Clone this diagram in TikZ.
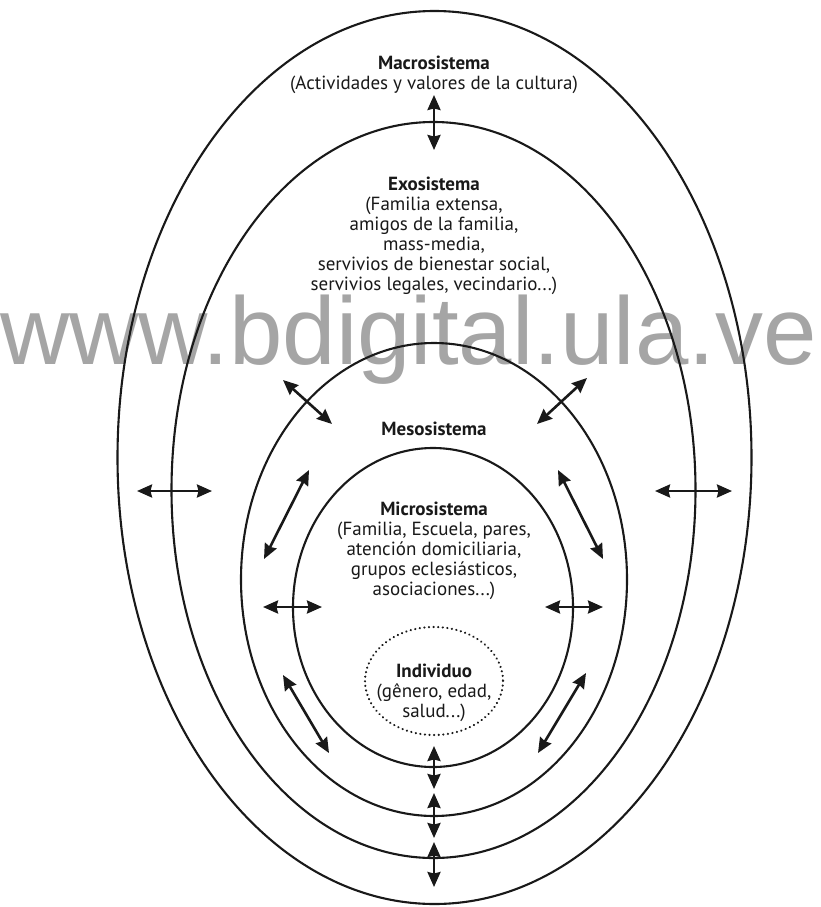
\documentclass[tikz,border=0pt]{standalone}
\usepackage{fontspec}
\setmainfont{PT Sans}
\newfontfamily\wmfont{Liberation Sans}
\usetikzlibrary{arrows.meta}
\definecolor{wm}{RGB}{165,165,165}
\definecolor{ink}{RGB}{25,25,25}
\begin{document}
\begin{tikzpicture}[x=1pt,y=-1pt,
  ring/.style={line width=2.1pt, draw=ink},
  dotring/.style={line width=2.4pt, draw=ink, dash pattern=on 0.01pt off 4.6pt, line cap=round},
  biarrow/.style={line width=2.6pt, draw=ink, {Stealth[length=15pt,width=13pt,inset=1.5pt]}-{Stealth[length=15pt,width=13pt,inset=1.5pt]}},
  lbl/.style={font=\fontsize{19}{20}\selectfont, align=center, inner sep=0pt, text=ink},
]
\path[use as bounding box, fill=white] (0,0) rectangle (820,907);
% watermark
\node[anchor=base west, inner sep=0pt, text=wm, font=\wmfont\fontsize{96}{96}\selectfont] (wm) at (0,364) {www.bdigital.ula.ve};
% rings
\draw[ring] (434.5,457.5) ellipse [x radius=317, y radius=446.5];
\draw[ring] (433.5,490) ellipse [x radius=262, y radius=368];
\draw[ring] (434,579.5) ellipse [x radius=193, y radius=236.5];
\draw[ring] (433,607.5) ellipse [x radius=140, y radius=159.5];
\draw[dotring] (434,681) ellipse [x radius=69, y radius=54];
% labels
\node[lbl] (macro) at (434,74.5) {\textbf{Macrosistema}\\(Actividades y valores de la cultura)};
\node[lbl] (exo) at (434,236) {\textbf{Exosistema}\\(Familia extensa,\\amigos de la familia,\\mass-media,\\servivios de bienestar social,\\servivios legales, vecindario...)};
\node[lbl] (meso) at (434,428.5) {\textbf{Mesosistema}};
\node[lbl] (micro) at (434,550.5) {\textbf{Microsistema}\\(Familia, Escuela, pares,\\atención domiciliaria,\\grupos eclesiásticos,\\asociaciones...)};
\node[lbl] (indiv) at (434,692.5) {\textbf{Individuo}\\(gênero, edad,\\salud...)};
% arrow end points
\coordinate (t1) at (434,95);   \coordinate (t2) at (434,150);
\coordinate (ol1) at (137,491); \coordinate (ol2) at (212,491);
\coordinate (or1) at (655,491); \coordinate (or2) at (732,491);
\coordinate (ul1) at (283,380); \coordinate (ul2) at (332,424);
\coordinate (ur1) at (587,378); \coordinate (ur2) at (537,424);
\coordinate (ml1) at (309,470); \coordinate (ml2) at (264,559);
\coordinate (mr1) at (558,470); \coordinate (mr2) at (603,559);
\coordinate (hl1) at (263,607); \coordinate (hl2) at (322,607);
\coordinate (hr1) at (545,607); \coordinate (hr2) at (603,607);
\coordinate (ll1) at (283,675); \coordinate (ll2) at (329,753);
\coordinate (lr1) at (586,673); \coordinate (lr2) at (538,753);
\coordinate (v1a) at (434,746); \coordinate (v1b) at (434,789);
\coordinate (v2a) at (434,793); \coordinate (v2b) at (434,838);
\coordinate (v3a) at (434,842); \coordinate (v3b) at (434,887);
% arrows
\draw[biarrow] (t1) -- (t2);
\draw[biarrow] (ol1) -- (ol2);
\draw[biarrow] (or1) -- (or2);
\draw[biarrow] (ul1) -- (ul2);
\draw[biarrow] (ur1) -- (ur2);
\draw[biarrow] (ml1) -- (ml2);
\draw[biarrow] (mr1) -- (mr2);
\draw[biarrow] (hl1) -- (hl2);
\draw[biarrow] (hr1) -- (hr2);
\draw[biarrow] (ll1) -- (ll2);
\draw[biarrow] (lr1) -- (lr2);
\draw[biarrow] (v1a) -- (v1b);
\draw[biarrow] (v2a) -- (v2b);
\draw[biarrow] (v3a) -- (v3b);
\end{tikzpicture}
\end{document}
